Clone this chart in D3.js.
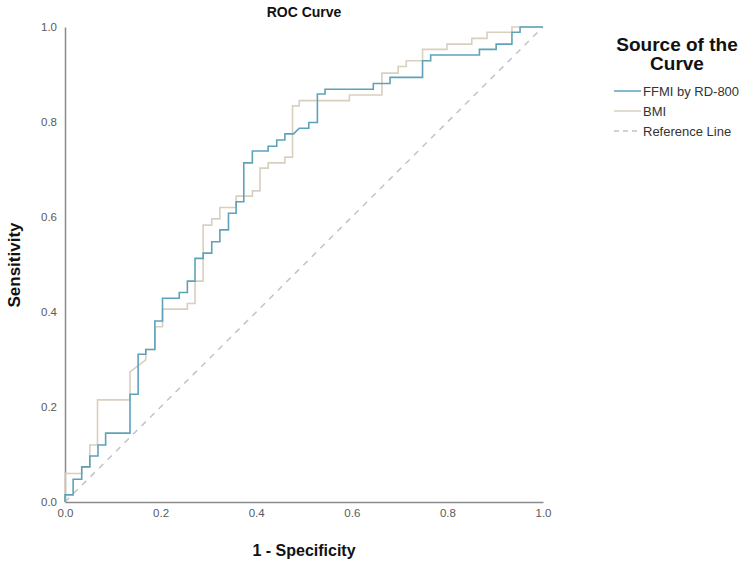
<!DOCTYPE html>
<html>
<head>
<meta charset="utf-8">
<script src="https://cdn.jsdelivr.net/npm/d3@7"></script>
<style>
  body { margin: 0; background: #fff; }
  svg { display: block; font-family: Arial, "Liberation Sans", sans-serif; }
</style>
</head>
<body>
<svg id="chart" width="742" height="564"></svg>
<script>
// ---- data ----
const seriesNames = ["FFMI by RD-800", "BMI", "Reference Line"];
const ticks = [0.0, 0.2, 0.4, 0.6, 0.8, 1.0];

// FFMI by RD-800: ROC vertices (1 - specificity, sensitivity)
const ffmiFpr = [0,0,0.017,0.017,0.035,0.035,0.052,0.052,0.069,0.069,0.085,0.085,0.136,0.136,0.153,0.153,0.169,0.169,0.188,0.188,0.204,0.204,0.239,0.239,0.256,0.256,0.272,0.272,0.289,0.289,0.307,0.307,0.324,0.324,0.342,0.342,0.358,0.358,0.374,0.374,0.392,0.392,0.425,0.425,0.443,0.443,0.460,0.460,0.478,0.490,0.510,0.510,0.528,0.528,0.544,0.544,0.645,0.645,0.680,0.680,0.748,0.748,0.765,0.765,0.867,0.867,0.902,0.902,0.935,0.935,0.952,0.952,1];
const ffmiTpr = [0,0.015,0.015,0.048,0.048,0.074,0.074,0.097,0.097,0.120,0.120,0.145,0.145,0.227,0.227,0.311,0.311,0.321,0.321,0.381,0.381,0.429,0.429,0.441,0.441,0.465,0.465,0.513,0.513,0.524,0.524,0.548,0.548,0.573,0.573,0.608,0.608,0.632,0.632,0.714,0.714,0.739,0.739,0.749,0.749,0.762,0.762,0.775,0.775,0.787,0.787,0.799,0.799,0.859,0.859,0.869,0.869,0.881,0.881,0.894,0.894,0.929,0.929,0.941,0.941,0.953,0.953,0.964,0.964,0.989,0.989,1,1];

// BMI: ROC vertices
const bmiFpr = [0,0,0.035,0.035,0.052,0.052,0.068,0.068,0.136,0.136,0.169,0.169,0.188,0.188,0.204,0.204,0.256,0.256,0.272,0.272,0.289,0.289,0.307,0.307,0.324,0.324,0.358,0.358,0.392,0.392,0.408,0.408,0.425,0.425,0.460,0.460,0.476,0.476,0.490,0.490,0.595,0.595,0.663,0.663,0.697,0.697,0.714,0.714,0.748,0.748,0.799,0.799,0.851,0.851,0.883,0.883,0.935,0.935,1];
const bmiTpr = [0,0.060,0.060,0.074,0.074,0.120,0.120,0.215,0.215,0.274,0.299,0.321,0.321,0.369,0.369,0.406,0.406,0.418,0.418,0.465,0.465,0.583,0.583,0.596,0.596,0.620,0.620,0.644,0.644,0.655,0.655,0.703,0.703,0.714,0.714,0.726,0.726,0.834,0.834,0.845,0.845,0.857,0.857,0.903,0.903,0.917,0.917,0.929,0.929,0.953,0.953,0.964,0.964,0.976,0.976,0.989,0.989,1,1];

// Reference line
const refFpr = [0, 1];
const refTpr = [0, 1];

const colors = { ffmi: "#5ea2ba", bmi: "#d9cfbf", ref: "#bfc3cb", axis: "#8a8a8a", tick: "#5a5a5a" };

// ---- drawing ----
const svg = d3.select("#chart");
const x = d3.scaleLinear().domain([0, 1]).range([65, 543]);
const y = d3.scaleLinear().domain([0, 1]).range([502, 27]);

const toPts = (xs, ys) => xs.map((v, i) => [v, ys[i]]);
const line = d3.line().x(d => x(d[0])).y(d => y(d[1]));

// axes
const xAxis = d3.axisBottom(x).tickValues(ticks).tickFormat(d3.format(".1f")).tickSize(0).tickPadding(7);
const yAxis = d3.axisLeft(y).tickValues(ticks).tickFormat(d3.format(".1f")).tickSize(0).tickPadding(8);

const gx = svg.append("g").attr("transform", `translate(0,${y(0)})`).call(xAxis);
const gy = svg.append("g").attr("transform", `translate(${x(0)},0)`).call(yAxis);
[gx, gy].forEach(g => {
  g.select(".domain").attr("stroke", colors.axis).attr("stroke-width", 1.5);
  g.selectAll("text").attr("fill", colors.tick).attr("font-size", 11.5).attr("font-family", 'Arial, "Liberation Sans", sans-serif');
});

// reference line
svg.append("path")
  .attr("d", line(toPts(refFpr, refTpr)))
  .attr("fill", "none").attr("stroke", colors.ref).attr("stroke-width", 1.5)
  .attr("stroke-dasharray", "6,6");

// BMI
svg.append("path")
  .attr("d", line(toPts(bmiFpr, bmiTpr)))
  .attr("fill", "none").attr("stroke", colors.bmi).attr("stroke-width", 1.6);

// FFMI
svg.append("path")
  .attr("d", line(toPts(ffmiFpr, ffmiTpr)))
  .attr("fill", "none").attr("stroke", colors.ffmi).attr("stroke-width", 1.6);

// titles
svg.append("text").attr("x", 304).attr("y", 17).attr("text-anchor", "middle")
  .attr("font-weight", "bold").attr("font-size", 14).attr("fill", "#111").text("ROC Curve");
svg.append("text").attr("x", 304).attr("y", 556).attr("text-anchor", "middle")
  .attr("font-weight", "bold").attr("font-size", 16).attr("fill", "#111").text("1 - Specificity");
svg.append("text").attr("transform", "translate(20,265) rotate(-90)").attr("text-anchor", "middle")
  .attr("font-weight", "bold").attr("font-size", 17).attr("fill", "#111").text("Sensitivity");

// legend
const lg = svg.append("g");
lg.append("text").attr("x", 677).attr("y", 51).attr("text-anchor", "middle")
  .attr("font-weight", "bold").attr("font-size", 19).attr("fill", "#111").text("Source of the");
lg.append("text").attr("x", 677).attr("y", 70).attr("text-anchor", "middle")
  .attr("font-weight", "bold").attr("font-size", 19).attr("fill", "#111").text("Curve");
const legendItems = [
  { name: seriesNames[0], color: colors.ffmi, dash: null, yy: 91 },
  { name: seriesNames[1], color: colors.bmi, dash: null, yy: 111 },
  { name: seriesNames[2], color: colors.ref, dash: "5,4", yy: 131 }
];
legendItems.forEach(it => {
  lg.append("line").attr("x1", 614).attr("x2", 641).attr("y1", it.yy).attr("y2", it.yy)
    .attr("stroke", it.color).attr("stroke-width", 1.5).attr("stroke-dasharray", it.dash);
  lg.append("text").attr("x", 643).attr("y", it.yy + 4.5).attr("font-size", 13)
    .attr("fill", "#333").text(it.name);
});
</script>
</body>
</html>
